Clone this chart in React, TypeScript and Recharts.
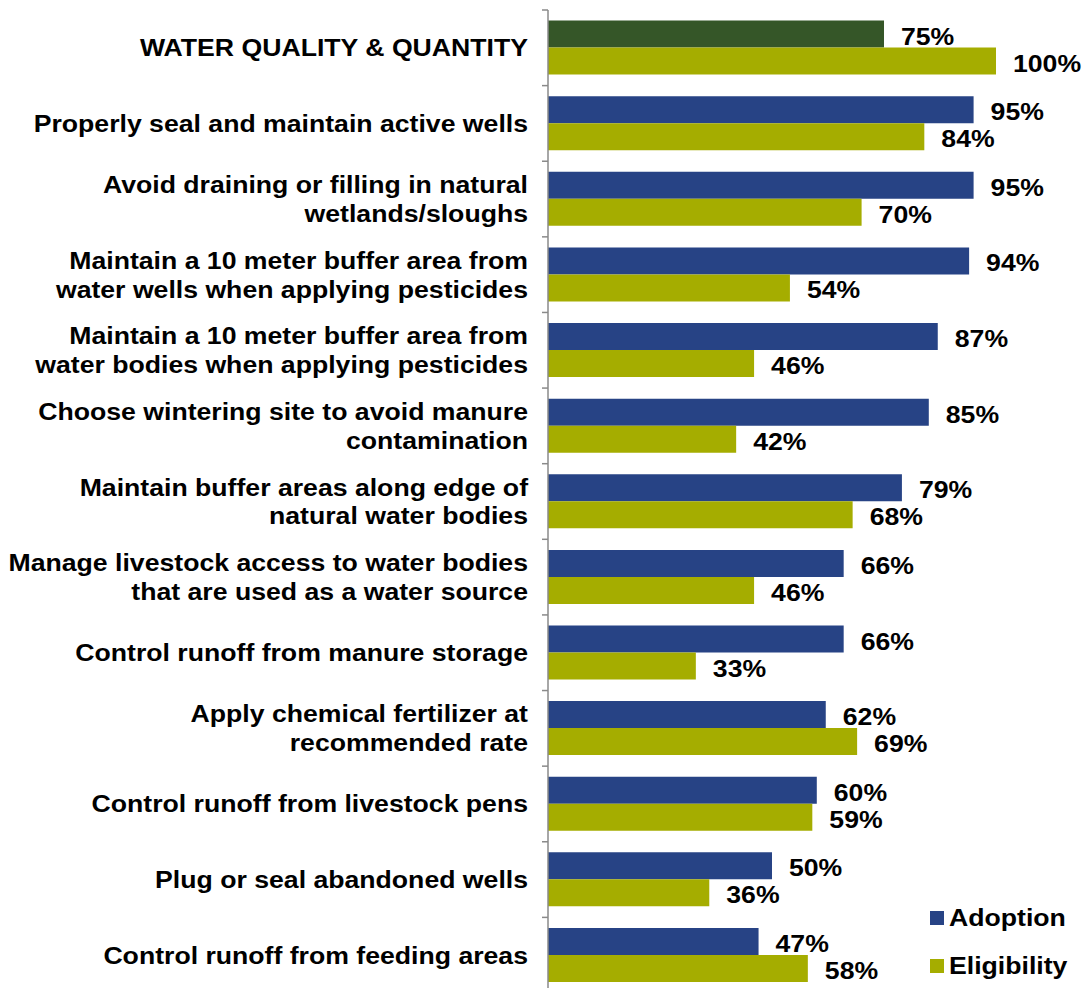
import { BarChart, Bar, XAxis, YAxis, Legend, LabelList, Cell } from 'recharts'

const categories = [
  'WATER QUALITY & QUANTITY',
  'Properly seal and maintain active wells',
  'Avoid draining or filling in natural\nwetlands/sloughs',
  'Maintain a 10 meter buffer area from\nwater wells when applying pesticides',
  'Maintain a 10 meter buffer area from\nwater bodies when applying pesticides',
  'Choose wintering site to avoid manure\ncontamination',
  'Maintain buffer areas along edge of\nnatural water bodies',
  'Manage livestock access to water bodies\nthat are used as a water source',
  'Control runoff from manure storage',
  'Apply chemical fertilizer at\nrecommended rate',
  'Control runoff from livestock pens',
  'Plug or seal abandoned wells',
  'Control runoff from feeding areas',
]
const adoption = [75, 95, 95, 94, 87, 85, 79, 66, 66, 62, 60, 50, 47]
const eligibility = [100, 84, 70, 54, 46, 42, 68, 46, 33, 69, 59, 36, 58]

const data = categories.map((name, i) => ({
  name,
  adoption: adoption[i],
  eligibility: eligibility[i],
}))

const W = 1086
const H = 988
const MARGIN = { top: 10, right: 90, bottom: -5, left: 0 }
const AXIS_W = 548
const BAND = (H - MARGIN.top - MARGIN.bottom) / categories.length
const FONT = '"Liberation Sans", Arial, sans-serif'
const FS = 24
const SX = 1.11 // the original text is a bit wider than plain Arial
const BLUE = '#274385'
const DARK_GREEN = '#355628'
const OLIVE = '#a5ad00'
const AXIS_GRAY = '#8a8a8a'

function CategoryTick(props: any) {
  const { y, payload, index } = props
  const lines = String(payload.value).split('\n')
  const lh = 29
  const axisX = MARGIN.left + AXIS_W
  const first = -((lines.length - 1) * lh) / 2 + 8.5
  return (
    <g>
      <line x1={axisX - 6} x2={axisX} y1={y - BAND / 2} y2={y - BAND / 2} stroke={AXIS_GRAY} strokeWidth={1.5} />
      {index === categories.length - 1 && (
        <line x1={axisX - 6} x2={axisX} y1={y + BAND / 2} y2={y + BAND / 2} stroke={AXIS_GRAY} strokeWidth={1.5} />
      )}
      <g transform={`translate(${axisX - 20},${y}) scale(${SX},1)`}>
        <text x={0} y={0} textAnchor="end" fontFamily={FONT} fontWeight="bold" fontSize={FS} fill="#000">
          {lines.map((l, i) => (
            <tspan key={i} x={0} dy={i === 0 ? first : lh}>
              {l}
            </tspan>
          ))}
        </text>
      </g>
    </g>
  )
}

function ValueLabel(props: any) {
  const { x, y, width, height, value } = props
  const tx = Number(x) + Number(width) + 17
  const ty = Number(y) + Number(height) / 2 + 10.5
  return (
    <g transform={`translate(${tx},${ty}) scale(${SX},1)`}>
      <text x={0} y={0} fontFamily={FONT} fontWeight="bold" fontSize={FS} fill="#000">
        {`${value}%`}
      </text>
    </g>
  )
}

function LegendContent(props: any) {
  const { payload } = props
  return (
    <div style={{ fontFamily: FONT, fontWeight: 'bold', fontSize: FS, color: '#000' }}>
      {payload.map((e: any) => (
        <div key={e.value} style={{ display: 'flex', alignItems: 'center', height: 48 }}>
          <span style={{ width: 14, height: 14, background: e.color, marginRight: 5, display: 'inline-block' }} />
          <span style={{ display: 'inline-block', transform: `scaleX(${SX})`, transformOrigin: 'left center' }}>
            {e.value}
          </span>
        </div>
      ))}
    </div>
  )
}

export default function App() {
  return (
    <div style={{ position: 'absolute', left: 0, top: 0, background: '#fff' }}>
      <BarChart
        width={W}
        height={H}
        data={data}
        layout="vertical"
        margin={MARGIN}
        barCategoryGap="14%"
        barGap={0}
      >
        <XAxis type="number" domain={[0, 100]} hide />
        <YAxis
          type="category"
          dataKey="name"
          width={AXIS_W}
          axisLine={{ stroke: AXIS_GRAY, strokeWidth: 1.5 }}
          tickLine={false}
          tick={<CategoryTick />}
          interval={0}
        />
        <Legend
          layout="vertical"
          align="center"
          verticalAlign="middle"
          content={<LegendContent />}
          wrapperStyle={{ position: 'absolute', left: 930, top: 894, right: 'auto', bottom: 'auto', width: 'auto' }}
        />
        <Bar dataKey="adoption" name="Adoption" fill={BLUE} isAnimationActive={false}>
          {data.map((_, i) => (
            <Cell key={i} fill={i === 0 ? DARK_GREEN : BLUE} />
          ))}
          <LabelList dataKey="adoption" content={<ValueLabel />} />
        </Bar>
        <Bar dataKey="eligibility" name="Eligibility" fill={OLIVE} isAnimationActive={false}>
          <LabelList dataKey="eligibility" content={<ValueLabel />} />
        </Bar>
      </BarChart>
    </div>
  )
}
